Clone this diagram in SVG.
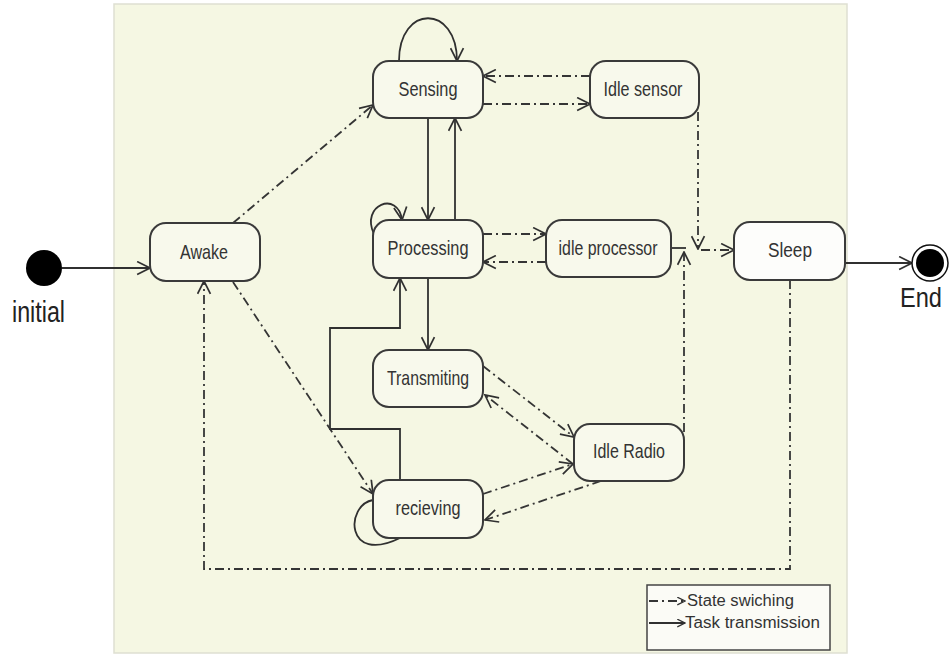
<svg xmlns="http://www.w3.org/2000/svg" width="949" height="655" viewBox="0 0 949 655">
<style>
.node{fill:#f8f9ec;stroke:#3a3a3a;stroke-width:2}
.lbl{font-family:"Liberation Sans",Arial,sans-serif;font-size:21px;fill:#333;text-anchor:middle}
.solid{fill:none;stroke:#303030;stroke-width:1.8}
.dd{fill:none;stroke:#353535;stroke-width:1.8;stroke-dasharray:9 4 2 4}
.big{font-family:"Liberation Sans",Arial,sans-serif;fill:#222}
.leg{font-family:"Liberation Sans",Arial,sans-serif;font-size:16px;fill:#333}
</style>
<defs>
<marker id="arr" viewBox="0 0 14 14" markerWidth="15" markerHeight="15" refX="13" refY="7" orient="auto" markerUnits="userSpaceOnUse">
<path d="M1,1 L13,7 L1,13" fill="none" stroke="#303030" stroke-width="1.6" stroke-dasharray="none"/>
</marker>
<marker id="arrS" viewBox="0 0 14 14" markerWidth="9" markerHeight="9" refX="13" refY="7" orient="auto" markerUnits="userSpaceOnUse">
<path d="M1,1 L13,7 L1,13" fill="none" stroke="#303030" stroke-width="2" stroke-dasharray="none"/>
</marker>
</defs>
<rect x="0" y="0" width="949" height="655" fill="#ffffff"/>
<rect x="114" y="4" width="733" height="649" fill="#f5f7e3" stroke="#dedfd2" stroke-width="1.5"/>

<g id="connectors">
<path class="solid" d="M62 268 L150 268" marker-end="url(#arr)"/>
<path class="solid" d="M845 263 L912 263" marker-end="url(#arr)"/>
<path class="solid" d="M399 61 C399 4, 457 4, 457 61" marker-end="url(#arr)"/>
<path class="solid" d="M428 118 L428 220" marker-end="url(#arr)"/>
<path class="solid" d="M455 220 L455 118" marker-end="url(#arr)"/>
<path class="solid" d="M374 234 C360 205, 398 190, 402 220" marker-end="url(#arr)"/>
<path class="solid" d="M428 278 L428 350" marker-end="url(#arr)"/>
<path class="solid" d="M400 480 L400 429 L330 429 L330 328 L400 328 L400 278" marker-end="url(#arr)"/>
<path class="solid" d="M373 500 C345 505, 345 565, 400 538"/>
<path class="dd" d="M233 223 L373 105" marker-end="url(#arr)"/>
<path class="dd" d="M233 282 L373 494" marker-end="url(#arr)"/>
<path class="dd" d="M790 280 L790 569 L204 569 L204 281" marker-end="url(#arr)"/>
<path class="dd" d="M483 104 L590 104" marker-end="url(#arr)"/>
<path class="dd" d="M590 76 L483 76" marker-end="url(#arr)"/>
<path class="dd" d="M698 112 L698 249" marker-end="url(#arr)"/>
<path class="solid" d="M671 248 L686 248"/>
<path class="dd" d="M684 432 L684 252" marker-end="url(#arr)"/>
<path class="dd" d="M701 250 L734 250" marker-end="url(#arr)"/>
<path class="dd" d="M483 234 L546 234" marker-end="url(#arr)"/>
<path class="dd" d="M546 262 L483 262" marker-end="url(#arr)"/>
<path class="dd" d="M483 366 L574 437" marker-end="url(#arr)"/>
<path class="dd" d="M573 464 L485 395" marker-end="url(#arr)"/>
<path class="dd" d="M483 494 L573 464" marker-end="url(#arr)"/>
<path class="dd" d="M601 481 L485 520" marker-end="url(#arr)"/>
</g>

<g id="initial">
<circle cx="44" cy="268" r="18" fill="#000"/>
<text class="big" x="12" y="322" font-size="30" textLength="53" lengthAdjust="spacingAndGlyphs">initial</text>
</g>
<g id="end">
<circle cx="930" cy="263" r="18" fill="#fff" stroke="#111" stroke-width="1.5"/>
<circle cx="930" cy="263" r="14" fill="#000"/>
<text class="big" x="900" y="307" font-size="27" textLength="42" lengthAdjust="spacingAndGlyphs">End</text>
</g>

<g id="awake"><rect class="node" x="150" y="223" width="110" height="58" rx="16"/><text class="lbl" x="204" y="259" textLength="48" lengthAdjust="spacingAndGlyphs">Awake</text></g>
<g id="sensing"><rect class="node" x="373" y="61" width="110" height="57" rx="16"/><text class="lbl" x="428" y="96" textLength="59" lengthAdjust="spacingAndGlyphs">Sensing</text></g>
<g id="idle-sensor"><rect class="node" x="590" y="61" width="109" height="57" rx="16"/><text class="lbl" x="643" y="96" textLength="79" lengthAdjust="spacingAndGlyphs">Idle sensor</text></g>
<g id="processing"><rect class="node" x="373" y="220" width="110" height="58" rx="16"/><text class="lbl" x="428" y="255" textLength="81" lengthAdjust="spacingAndGlyphs">Processing</text></g>
<g id="idle-processor"><rect class="node" x="546" y="220" width="125" height="57" rx="16"/><text class="lbl" x="608" y="255" textLength="99" lengthAdjust="spacingAndGlyphs">idle processor</text></g>
<g id="sleep"><rect x="734" y="222" width="111" height="58" rx="16" fill="#fdfdfb" stroke="#3a3a3a" stroke-width="2"/><text class="lbl" x="790" y="257" textLength="44" lengthAdjust="spacingAndGlyphs">Sleep</text></g>
<g id="transmiting"><rect class="node" x="373" y="350" width="110" height="57" rx="16"/><text class="lbl" x="428" y="385" textLength="82" lengthAdjust="spacingAndGlyphs">Transmiting</text></g>
<g id="idle-radio"><rect class="node" x="574" y="424" width="110" height="57" rx="16"/><text class="lbl" x="629" y="458" textLength="72" lengthAdjust="spacingAndGlyphs">Idle Radio</text></g>
<g id="recieving"><rect class="node" x="373" y="480" width="110" height="58" rx="16"/><text class="lbl" x="428" y="515" textLength="65" lengthAdjust="spacingAndGlyphs">recieving</text></g>

<g id="legend">
<rect x="647" y="585" width="183" height="65" fill="#fbfbf6" stroke="#444" stroke-width="1.5"/>
<path class="dd" d="M649 601 L685 601" stroke-dasharray="7 3 2 3" marker-end="url(#arrS)"/>
<text class="leg" x="687" y="606" textLength="107" lengthAdjust="spacingAndGlyphs">State swiching</text>
<path class="solid" d="M649 623 L685 623" marker-end="url(#arrS)"/>
<text class="leg" x="685" y="628" textLength="135" lengthAdjust="spacingAndGlyphs">Task transmission</text>
</g>
</svg>
